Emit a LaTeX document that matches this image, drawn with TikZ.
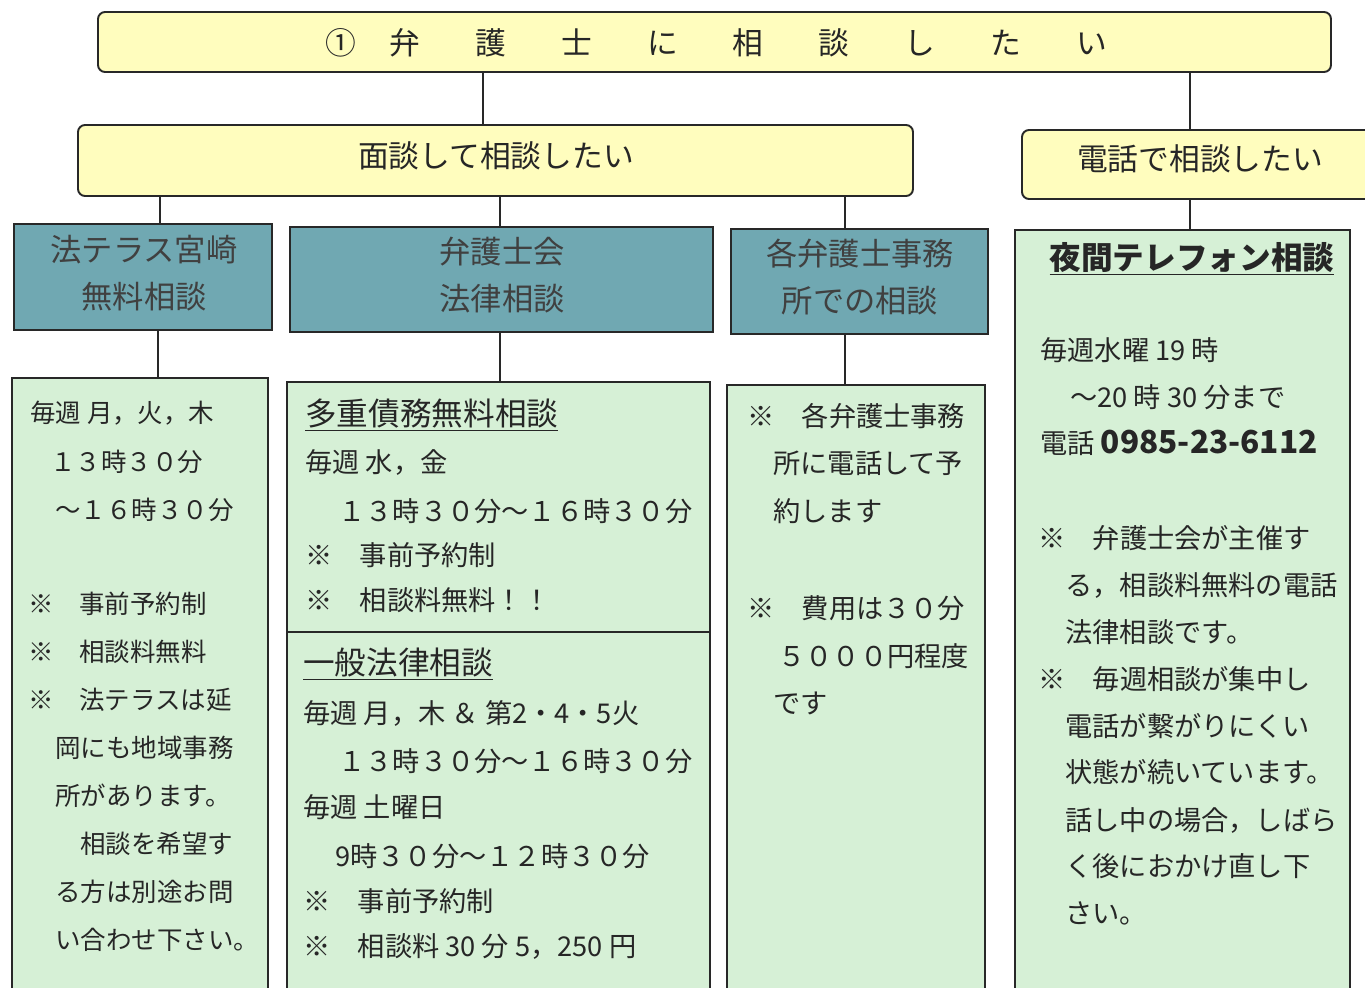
\documentclass[tikz,border=0pt]{standalone}
\usepackage{fontspec}
\setmainfont{Noto Sans CJK JP}
\usetikzlibrary{fit}
\definecolor{askyellow}{RGB}{255,253,190}
\definecolor{placeteal}{RGB}{112,168,178}
\definecolor{infogreen}{RGB}{214,240,214}
\definecolor{linegray}{RGB}{40,40,40}
\newcommand{\wsp}{\hspace{1.79em}}

\tikzset{
  ask/.style={draw=linegray, line width=1.1pt, fill=askyellow, rounded corners=4pt, inner sep=0pt},
  place/.style={draw=linegray, line width=1.1pt, fill=placeteal, inner sep=0pt},
  info/.style={draw=linegray, line width=1.1pt, fill=infogreen, inner sep=0pt},
  link/.style={draw=linegray, line width=1.4pt},
  asktxt/.style={anchor=base, inner sep=0pt, font=\fontsize{17.5}{20}\selectfont, text=black!85},
  placetxt/.style={anchor=base, inner sep=0pt, align=center, font=\fontsize{17.8}{26.6}\selectfont, text=black!75},
  txt/.style={anchor=base west, inner sep=0pt, font=\fontsize{15.5}{18}\selectfont, text=black!85},
  smalltxt/.style={txt, font=\fontsize{14.5}{17}\selectfont},
  head/.style={txt, font=\fontsize{18}{20}\selectfont},
}

\begin{document}
\begin{tikzpicture}[x=0.02cm,y=-0.02cm]
\clip (0,0) rectangle (1365,987);

% question boxes
\node[ask, fit={(98,12) (1331,72)}] (want) {};
\node[ask, fit={(78,125) (913,196)}] (meet) {};
\node[ask, fit={(1022,130) (1378,199)}] (phone) {};
\node[asktxt] (want-t) at (716,54) {①\hspace{1.1em}弁\wsp 護\wsp 士\wsp に\wsp 相\wsp 談\wsp し\wsp た\wsp い};
\node[asktxt] (meet-t) at (496,167) {面談して相談したい};
\node[asktxt] (phone-t) at (1200,170) {電話で相談したい};

% places (base = last line)
\node[place, fit={(14,224) (272,330)}] (houterasu) {};
\node[place, fit={(290,227) (713,332)}] (bengo) {};
\node[place, fit={(731,229) (988,334)}] (jimusho) {};
\node[placetxt] (houterasu-t) at (144,308) {法テラス宮崎\\無料相談};
\node[placetxt] (bengo-t) at (502,310) {弁護士会\\法律相談};
\node[placetxt] (jimusho-t) at (860,312) {各弁護士事務\\所での相談};

% info boxes
\node[info, fit={(12,378) (268,995)}] (info1) {};
\node[info, fit={(287,382) (710,995)}] (info2) {};
\node[info, fit={(727,385) (985,995)}] (info3) {};
\node[info, fit={(1015,230) (1350,995)}] (info4) {};

\draw[link] (want.south -| 483,0) -- (meet.north -| 483,0);
\draw[link] (want.south -| 1190,0) -- (phone.north -| 1190,0);
\draw[link] (meet.south -| 160,0) -- (houterasu.north -| 160,0);
\draw[link] (meet.south -| 500,0) -- (bengo.north -| 500,0);
\draw[link] (meet.south -| 845,0) -- (jimusho.north -| 845,0);
\draw[link] (phone.south -| 1190,0) -- (info4.north -| 1190,0);
\draw[link] (houterasu.south -| 158,0) -- (info1.north -| 158,0);
\draw[link] (bengo.south -| 500,0) -- (info2.north -| 500,0);
\draw[link] (jimusho.south -| 845,0) -- (info3.north -| 845,0);
\draw[draw=linegray, line width=1.1pt] (info2.west |- 0,632) -- (info2.east |- 0,632);

% houterasu
\node[smalltxt] (a1) at (30,422) {毎週 月，火，木};
\node[smalltxt] (a2) at (50,471) {１３時３０分};
\node[smalltxt] (a3) at (55,519) {～１６時３０分};
\node[smalltxt] (a4) at (28,613) {※　事前予約制};
\node[smalltxt] (a5) at (28,661) {※　相談料無料};
\node[smalltxt] (a6) at (28,709) {※　法テラスは延};
\node[smalltxt] (a7) at (55,757) {岡にも地域事務};
\node[smalltxt] (a8) at (55,805) {所があります。};
\node[smalltxt] (a9) at (80,853) {相談を希望す};
\node[smalltxt] (a10) at (55,901) {る方は別途お問};
\node[smalltxt] (a11) at (55,949) {い合わせ下さい。};

% bengoshikai
\node[head] (b1) at (305,425) {\underline{多重債務無料相談}};
\node[txt] (b2) at (305,472) {毎週 水，金};
\node[txt] (b3) at (338,521) {１３時３０分～１６時３０分};
\node[txt] (b4) at (305,565) {※　事前予約制};
\node[txt] (b5) at (305,610) {※　相談料無料！！};
\node[head] (b6) at (303,674) {\underline{一般法律相談}};
\node[txt] (b7) at (303,723) {毎週 月，木 ＆ 第2・4・5火};
\node[txt] (b8) at (338,771) {１３時３０分～１６時３０分};
\node[txt] (b9) at (303,817) {毎週 土曜日};
\node[txt] (b10) at (335,866) {9時３０分～１２時３０分};
\node[txt] (b11) at (303,911) {※　事前予約制};
\node[txt] (b12) at (303,956) {※　相談料 30 分 5，250 円};

% jimusho
\node[txt] (c1) at (747,426) {※　各弁護士事務};
\node[txt] (c2) at (773,473) {所に電話して予};
\node[txt] (c3) at (773,521) {約します};
\node[txt] (c4) at (747,618) {※　費用は３０分};
\node[txt] (c5) at (778,666) {５０００円程度};
\node[txt] (c6) at (773,713) {です};

% telephone
\node[head, font=\fontsize{18}{20}\selectfont\bfseries, anchor=base] (d1) at (1192,269) {\underline{夜間テレフォン相談}};
\node[txt] (d2) at (1040,360) {毎週水曜 19 時};
\node[txt] (d3) at (1070,407) {～20 時 30 分まで};
\node[txt] (d4) at (1040,453) {電話 {\fontsize{18}{20}\selectfont\bfseries 0985-23-6112}};
\node[txt] (d5) at (1038,548) {※　弁護士会が主催す};
\node[txt] (d6) at (1065,595) {る，相談料無料の電話};
\node[txt] (d7) at (1065,642) {法律相談です。};
\node[txt] (d8) at (1038,689) {※　毎週相談が集中し};
\node[txt] (d9) at (1065,736) {電話が繋がりにくい};
\node[txt] (d10) at (1065,782) {状態が続いています。};
\node[txt] (d11) at (1065,830) {話し中の場合，しばら};
\node[txt] (d12) at (1065,876) {く後におかけ直し下};
\node[txt] (d13) at (1065,923) {さい。};

\end{tikzpicture}
\end{document}
